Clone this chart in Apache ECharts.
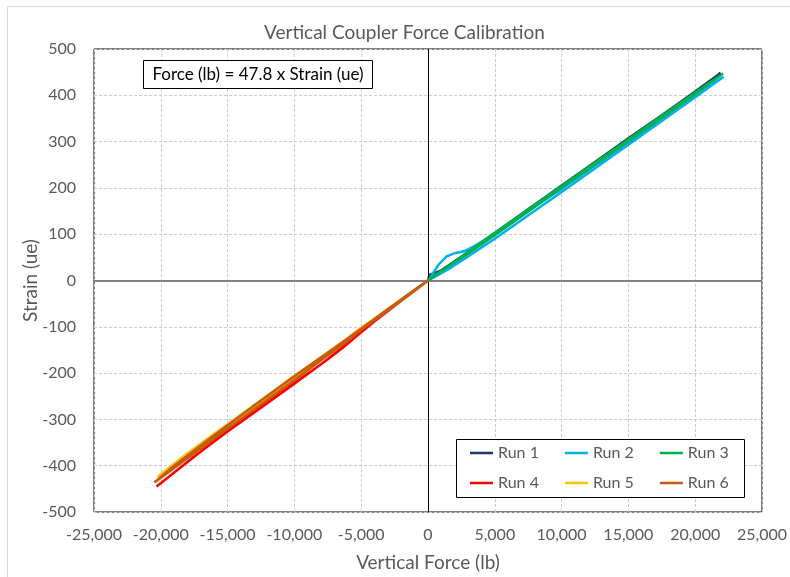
<!DOCTYPE html>
<html>
<head>
<meta charset="utf-8">
<script src="https://cdn.jsdelivr.net/npm/echarts@6/dist/echarts.min.js"></script>
<style>
  html, body { margin: 0; padding: 0; background: #fff; }
  #chart { width: 790px; height: 577px; }
</style>
</head>
<body>
<div id="chart"></div>
<script>
// Calibration runs: [vertical force (lb), strain (ue)], loading then unloading
const runNames = ['Run 1', 'Run 2', 'Run 3', 'Run 4', 'Run 5', 'Run 6'];
const runColors = ['#1f3864', '#00b0f0', '#00b050', '#ff0000', '#ffc000', '#c55a11'];

const run1 = [[0, 0], [100, 12], [400, 15], [1000, 22], [2500, 51], [5000, 102], [7500, 154],
  [10000, 205], [12500, 256], [15000, 307], [17500, 357], [20000, 408], [21900, 448],
  [20000, 405], [15000, 304], [10000, 202], [5000, 100], [2500, 50], [1000, 20], [0, 2]];

const run2 = [[0, 0], [300, 12], [800, 35], [1400, 52], [2000, 59], [2700, 63], [3500, 75],
  [4500, 92], [6000, 121], [8000, 161], [10000, 198], [12500, 249], [15000, 299], [17500, 350],
  [20000, 400], [22130, 440],
  [20000, 396], [15000, 293], [10000, 191], [5000, 90], [3000, 52], [1500, 24], [500, 8], [0, 0]];

const run3 = [[0, 0], [500, 10], [1000, 20], [2000, 41], [3000, 62], [5000, 103], [7500, 154],
  [10000, 204], [12500, 255], [15000, 305], [17500, 356], [20000, 406], [22080, 447],
  [20000, 402], [15000, 301], [10000, 200], [5000, 98], [3000, 58], [1500, 30], [0, 2]];

const run4 = [[0, 0], [-1000, -22], [-2000, -44], [-3000, -66], [-4000, -88], [-5000, -112],
  [-5500, -124], [-6000, -136], [-6500, -148], [-7500, -170], [-8500, -191], [-10000, -223],
  [-12500, -275], [-15000, -326], [-17500, -380], [-20000, -438], [-20320, -445],
  [-18000, -392], [-15000, -324], [-12500, -273], [-10000, -221], [-8000, -181], [-6500, -147],
  [-5500, -122], [-4000, -87], [-2000, -43], [0, 0]];

const run5 = [[0, 0], [-1000, -20], [-2000, -41], [-3000, -61], [-4000, -82], [-5000, -102],
  [-6000, -124], [-8000, -165], [-10000, -206], [-12000, -248], [-14000, -290], [-16000, -331],
  [-18000, -373], [-20250, -424],
  [-19000, -398], [-16000, -335], [-12000, -252], [-8000, -168], [-4000, -84], [0, 0]];

const run6 = [[0, 0], [-1000, -21], [-2000, -42], [-3000, -63], [-4000, -85], [-5000, -106],
  [-6000, -130], [-8000, -172], [-10000, -215], [-12000, -257], [-14000, -299], [-16000, -341],
  [-18000, -384], [-20480, -436],
  [-19000, -400], [-16000, -334], [-13000, -270], [-10000, -207], [-7000, -146], [-5000, -104],
  [-3000, -62], [-1000, -20], [0, 0]];

const runData = [run1, run2, run3, run4, run5, run6];

const xRange = [-25000, 25000, 5000];
const yRange = [-500, 500, 100];

const FONT = 'Lato';
const GREY_TEXT = '#595959';

const series = runNames.map((name, i) => ({
  name: name,
  type: 'line',
  data: runData[i],
  showSymbol: false,
  symbol: 'none',
  smooth: false,
  clip: true,
  lineStyle: { color: runColors[i], width: 2.5 },
  itemStyle: { color: runColors[i] },
  z: 3 + i
}));

// zero reference lines for both axes
series[0].markLine = {
  silent: true,
  symbol: 'none',
  label: { show: false },
  animation: false,
  data: [
    { xAxis: 0, lineStyle: { color: '#000000', width: 1, type: 'solid' } },
    { yAxis: 0, lineStyle: { color: '#808080', width: 2, type: 'solid' } }
  ]
};

const legendCommon = {
  orient: 'horizontal',
  icon: 'rect',
  itemWidth: 23,
  itemHeight: 2.5,
  itemGap: 26,
  padding: 0,
  z: 10,
  textStyle: { fontFamily: FONT, fontSize: 16, color: GREY_TEXT, padding: [0, 0, 0, 0] }
};

const chart = echarts.init(document.getElementById('chart'), null, { renderer: 'canvas' });

chart.setOption({
  animation: false,
  backgroundColor: '#ffffff',
  title: {
    text: 'Vertical Coupler Force Calibration',
    left: 259,
    top: 18,
    textStyle: { fontFamily: FONT, fontSize: 19, fontWeight: 'normal', color: GREY_TEXT }
  },
  grid: {
    left: 94, right: 25, top: 49, bottom: 63,
    show: true,
    borderColor: '#000000',
    borderWidth: 1,
    backgroundColor: 'transparent'
  },
  xAxis: {
    type: 'value',
    min: xRange[0], max: xRange[1], interval: xRange[2],
    name: 'Vertical Force (lb)',
    nameLocation: 'middle',
    nameGap: 41,
    nameMoveOverlap: false,
    nameTextStyle: { fontFamily: FONT, fontSize: 19, color: GREY_TEXT },
    axisLine: { show: false },
    axisTick: { show: false },
    axisLabel: {
      margin: 15,
      fontFamily: FONT, fontSize: 16, color: GREY_TEXT,
      formatter: v => v.toLocaleString('en-US')
    },
    splitLine: { show: true, lineStyle: { color: '#cccccc', type: [3, 2], width: 1 } }
  },
  yAxis: {
    type: 'value',
    min: yRange[0], max: yRange[1], interval: yRange[2],
    name: 'Strain (ue)',
    nameLocation: 'middle',
    nameGap: 54,
    nameMoveOverlap: false,
    nameTextStyle: { fontFamily: FONT, fontSize: 19, color: GREY_TEXT },
    axisLine: { show: false },
    axisTick: { show: false },
    axisLabel: { margin: 18, fontFamily: FONT, fontSize: 16, color: GREY_TEXT },
    splitLine: { show: true, lineStyle: { color: '#cccccc', type: [3, 2], width: 1 } }
  },
  legend: [
    Object.assign({}, legendCommon, { data: runNames.slice(0, 3), left: 470, top: 445 }),
    Object.assign({}, legendCommon, { data: runNames.slice(3, 6), left: 470, top: 475 })
  ],
  graphic: [
    {
      type: 'rect', z: 1, silent: true,
      shape: { x: 7.5, y: 6.5, width: 800, height: 600 },
      style: { fill: 'transparent', stroke: '#d9d9d9', lineWidth: 1 }
    },
    {
      type: 'rect', z: 5, silent: true,
      shape: { x: 456.5, y: 439.5, width: 288, height: 58 },
      style: { fill: '#ffffff', stroke: '#000000', lineWidth: 1 }
    },
    {
      type: 'rect', z: 5, silent: true,
      shape: { x: 143.5, y: 60.5, width: 229, height: 28 },
      style: { fill: '#ffffff', stroke: '#000000', lineWidth: 1 }
    },
    {
      type: 'text', z: 6, silent: true,
      x: 258, y: 75,
      style: {
        text: 'Force (lb) = 47.8 x Strain (ue)',
        fontFamily: FONT, fontSize: 17, fill: '#000000',
        textAlign: 'center', textVerticalAlign: 'middle'
      }
    }
  ],
  series: series
});
</script>
</body>
</html>
